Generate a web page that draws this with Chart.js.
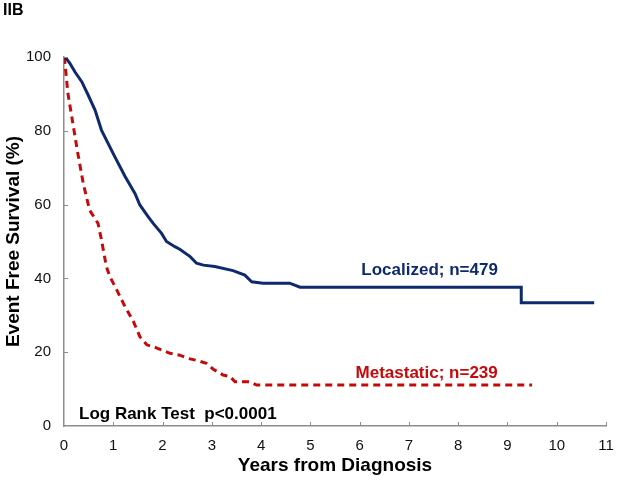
<!DOCTYPE html>
<html>
<head>
<meta charset="utf-8">
<script src="https://cdn.jsdelivr.net/npm/chart.js@4/dist/chart.umd.min.js"></script>
<style>
  html, body { margin: 0; padding: 0; background: #fff; }
  #wrap { width: 617px; height: 482px; position: relative; }
</style>
</head>
<body>
<div id="wrap"><canvas id="kmChart"></canvas></div>
<script>
// Kaplan-Meier event free survival
const localizedYears = [0, 0.04, 0.12, 0.22, 0.36, 0.49, 0.63, 0.76, 1.03, 1.24, 1.44, 1.54, 1.71, 1.81, 1.98, 2.08, 2.25, 2.35, 2.56, 2.69, 2.83, 3.06, 3.43, 3.67, 3.81, 4.04, 4.58, 4.79, 9.28, 9.28, 10.76];
const localizedEFS = [100, 99.7, 98.3, 96, 93.3, 89.7, 85.6, 80.2, 73, 67.6, 63, 59.9, 56.7, 54.9, 52.2, 50, 48.6, 47.9, 45.9, 44.1, 43.6, 43.2, 42.1, 40.9, 39.1, 38.7, 38.7, 37.6, 37.6, 33.4, 33.4];

const metastaticYears = [0, 0.01, 0.08, 0.18, 0.28, 0.39, 0.52, 0.69, 0.76, 0.86, 0.93, 1.07, 1.24, 1.41, 1.54, 1.68, 1.85, 2.15, 2.35, 2.52, 2.72, 2.89, 3.03, 3.23, 3.37, 3.47, 3.77, 3.91, 9.5];
const metastaticEFS = [100, 99.6, 90.1, 82, 73.9, 65.8, 58.5, 54.9, 50.5, 43.2, 40.5, 36.9, 32.3, 28.3, 24.2, 22, 21.3, 19.7, 19.2, 18.3, 17.7, 17, 15.4, 13.8, 13.4, 12, 12, 11.1, 11.1];

const seriesLabels = ['Localized; n=479', 'Metastatic; n=239'];
const xTicks = [0, 1, 2, 3, 4, 5, 6, 7, 8, 9, 10, 11];
const yTicks = [0, 20, 40, 60, 80, 100];

const NAVY = '#0E2A6C';
const RED = '#C40A0A';
const AXIS = '#8c8c8c';
const FONT = "'Liberation Sans', Arial, sans-serif";

function toPoints(xs, ys) {
    return xs.map((x, i) => ({ x: x, y: ys[i] }));
}

// tick marks point into the plot, like the original
const innerTicks = {
    id: 'innerTicks',
    afterDraw(chart) {
        const ctx = chart.ctx;
        const xs = chart.scales.x;
        const ys = chart.scales.y;
        const area = chart.chartArea;
        ctx.save();
        ctx.strokeStyle = AXIS;
        ctx.lineWidth = 1;
        ctx.beginPath();
        xTicks.slice(1).forEach(v => {
            const px = Math.round(xs.getPixelForValue(v)) + 0.5;
            ctx.moveTo(px, area.bottom);
            ctx.lineTo(px, area.bottom - 4);
        });
        yTicks.slice(1).forEach(v => {
            const py = Math.round(ys.getPixelForValue(v)) + 0.5;
            ctx.moveTo(area.left, py);
            ctx.lineTo(area.left + 4, py);
        });
        ctx.stroke();
        ctx.restore();
    }
};

// panel letter and in-plot annotations
const annotations = {
    id: 'annotations',
    afterDatasetsDraw(chart) {
        const ctx = chart.ctx;
        const xs = chart.scales.x;
        const ys = chart.scales.y;
        ctx.save();
        ctx.textBaseline = 'middle';

        ctx.font = 'bold 16px ' + FONT;
        ctx.fillStyle = '#000';
        ctx.textAlign = 'left';
        ctx.fillText('IIB', 3, 11);

        ctx.font = 'bold 17px ' + FONT;
        ctx.textAlign = 'center';
        ctx.fillStyle = NAVY;
        ctx.fillText(seriesLabels[0], xs.getPixelForValue(7.42), ys.getPixelForValue(42.3));
        ctx.fillStyle = RED;
        ctx.fillText(seriesLabels[1], xs.getPixelForValue(7.36), ys.getPixelForValue(14.2));

        ctx.fillStyle = '#000';
        ctx.textAlign = 'left';
        ctx.fillText('Log Rank Test  p<0.0001', 79, ys.getPixelForValue(3.3));
        ctx.restore();
    }
};

const ctx = document.getElementById('kmChart').getContext('2d');
new Chart(ctx, {
    type: 'line',
    data: {
        datasets: [{
            label: seriesLabels[0],
            data: toPoints(localizedYears, localizedEFS),
            borderColor: NAVY,
            borderWidth: 3,
            pointRadius: 0,
            tension: 0,
            fill: false
        }, {
            label: seriesLabels[1],
            data: toPoints(metastaticYears, metastaticEFS),
            borderColor: RED,
            borderWidth: 3,
            borderDash: [7, 5],
            pointRadius: 0,
            tension: 0,
            fill: false
        }]
    },
    options: {
        responsive: true,
        maintainAspectRatio: false,
        animation: false,
        layout: {
            padding: { top: 57, right: 11, left: 0, bottom: 0 }
        },
        plugins: {
            legend: { display: false },
            tooltip: { enabled: false }
        },
        scales: {
            x: {
                type: 'linear',
                min: 0,
                max: 11,
                afterBuildTicks: (s) => { s.ticks = xTicks.map(v => ({ value: v })); },
                afterFit: (s) => {
                    s.height = 56;
                    s.paddingLeft = 0;
                    s.paddingRight = 0;
                },
                grid: {
                    drawOnChartArea: false,
                    drawTicks: false
                },
                border: { color: AXIS, width: 1.5 },
                ticks: {
                    color: '#111',
                    padding: 11,
                    maxRotation: 0,
                    font: { family: FONT, size: 15 }
                },
                title: {
                    display: true,
                    text: 'Years from Diagnosis',
                    color: '#000',
                    padding: { top: 0, bottom: 5 },
                    font: { family: FONT, size: 19, weight: 'bold' }
                }
            },
            y: {
                min: 0,
                max: 100,
                afterBuildTicks: (s) => { s.ticks = yTicks.map(v => ({ value: v })); },
                afterFit: (s) => {
                    s.width = 64;
                    s.paddingTop = 0;
                    s.paddingBottom = 0;
                },
                grid: {
                    drawOnChartArea: false,
                    drawTicks: false
                },
                border: { color: AXIS, width: 1.5 },
                ticks: {
                    color: '#111',
                    padding: 13,
                    font: { family: FONT, size: 15 }
                },
                title: {
                    display: true,
                    text: 'Event Free Survival (%)',
                    color: '#000',
                    padding: { top: 2, bottom: 0 },
                    font: { family: FONT, size: 19, weight: 'bold' }
                }
            }
        }
    },
    plugins: [innerTicks, annotations]
});
</script>
</body>
</html>
